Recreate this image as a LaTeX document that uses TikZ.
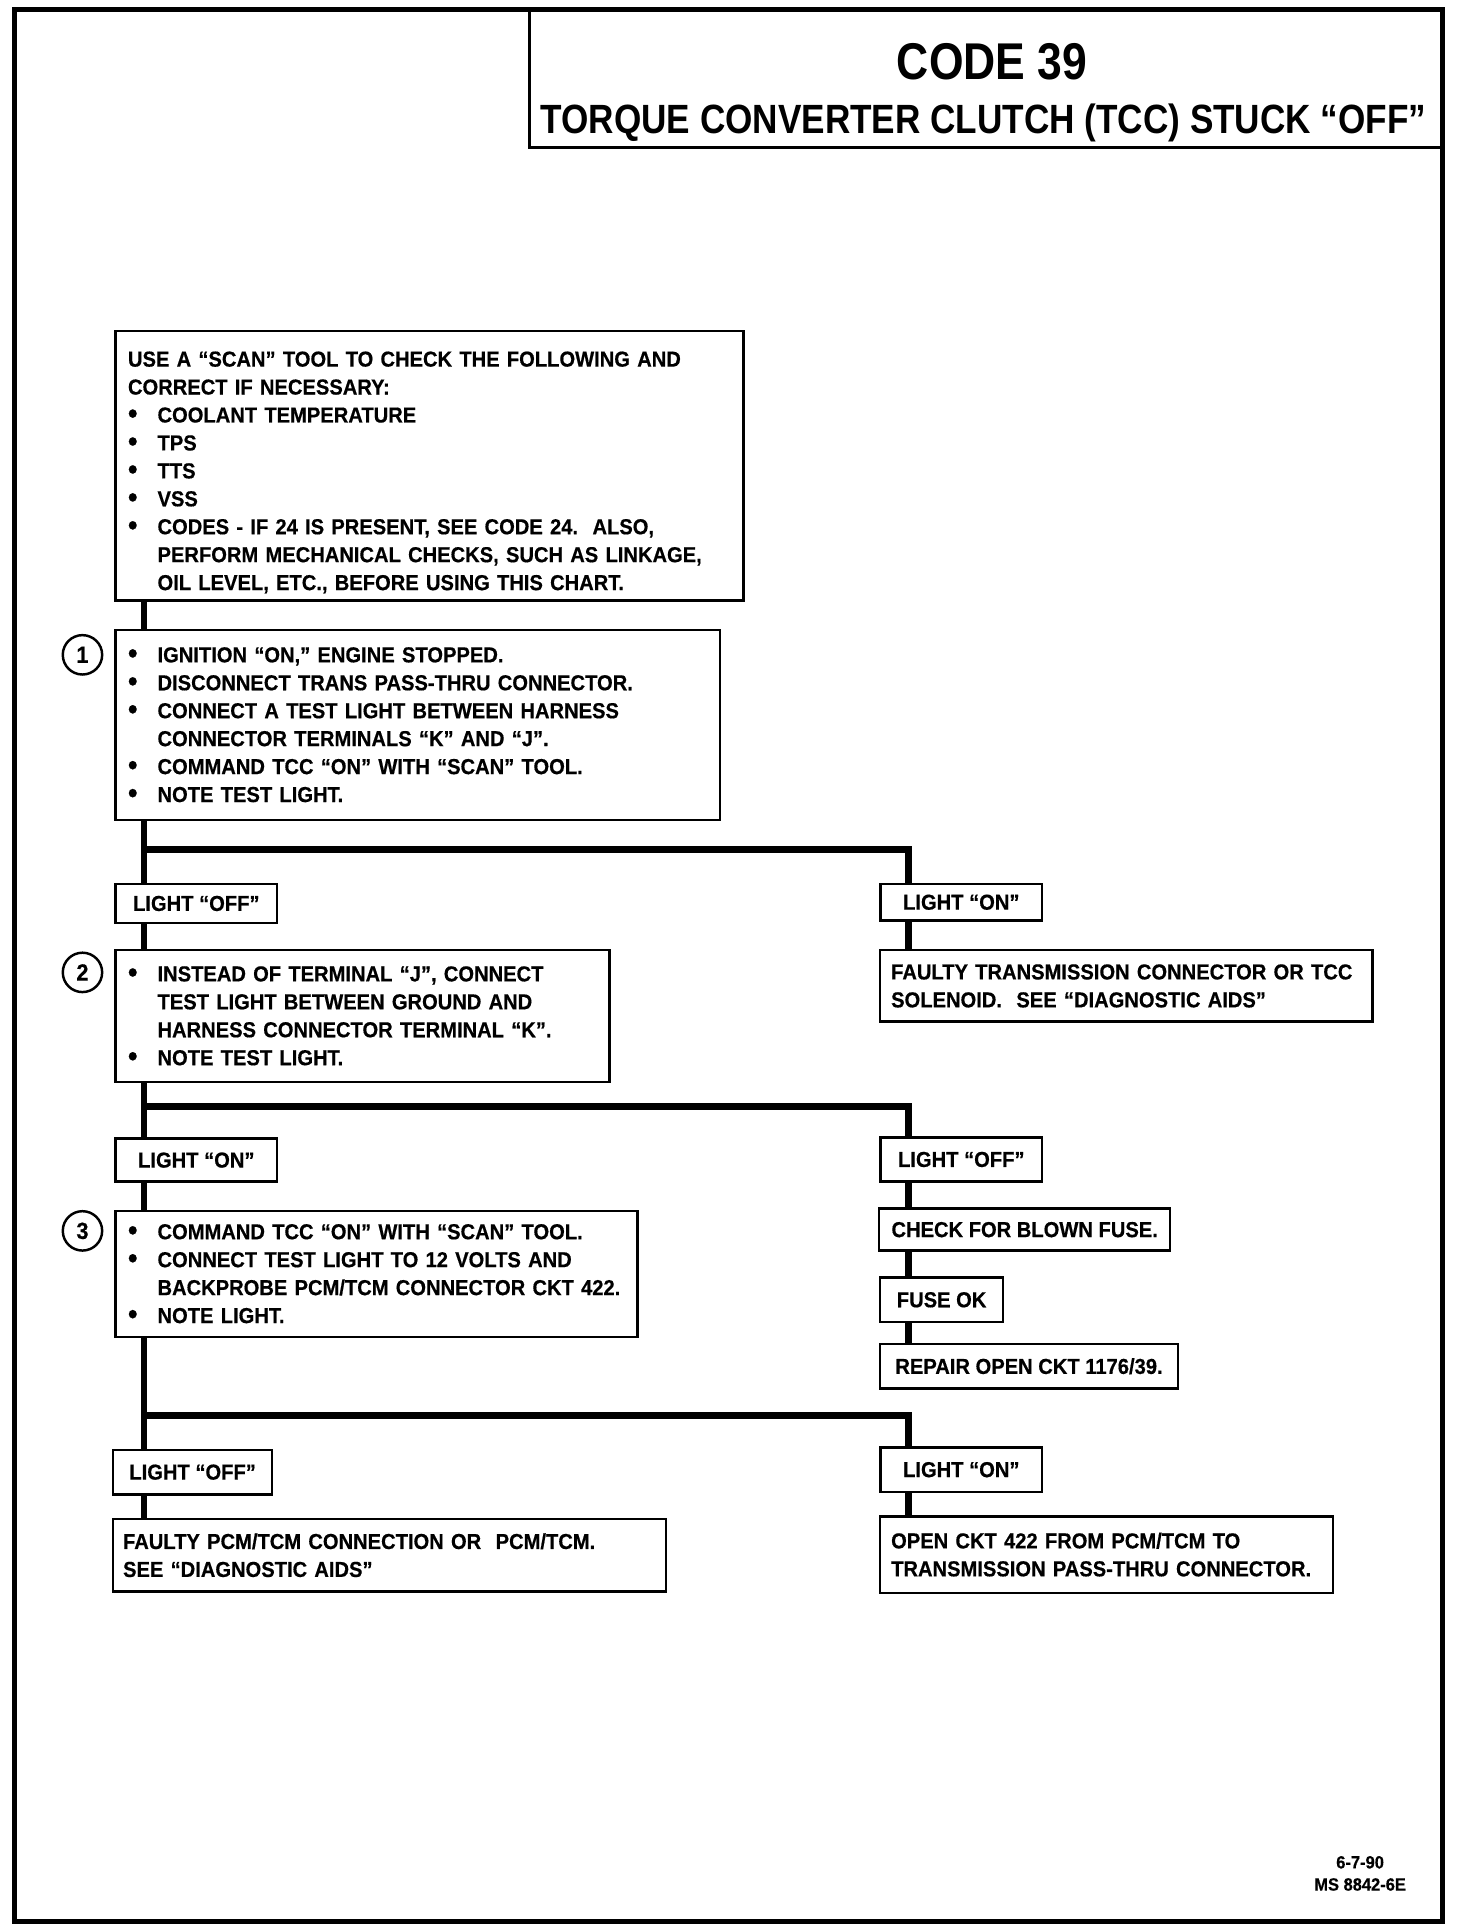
\documentclass[tikz,border=0pt]{standalone}
\usepackage{graphicx}
\usepackage{fontspec}
\setmainfont{Liberation Sans}[FakeStretch=0.93, BoldFeatures={FakeBold=0.5}]
\newfontfamily\titlefnt{Liberation Sans}[FakeStretch=0.86]
\newcommand\chartfnt{\fontsize{8.8}{11.35}\selectfont\bfseries}
\newcommand\bl{\makebox[12pt][l]{\raisebox{-0.3pt}{\scalebox{1.35}{\textbullet}}}}
\newcommand\ind{\hspace*{12pt}}
\begin{document}
\begin{tikzpicture}[x=0.5pt,y=-0.5pt,
  box/.style={draw, line width=1pt, inner xsep=5pt, inner ysep=0pt, font=\chartfnt, fill=white},
  multi/.style={box, align=left},
  lightbox/.style={box, minimum width=65.5pt},
  conn/.style={line width=2.6pt, line join=miter},
  num/.style={circle, draw, line width=1pt, minimum size=16pt, inner sep=0pt, font=\fontsize{9.5}{10}\selectfont\bfseries}]
\useasboundingbox (0,0) rectangle (1196,1568);
% frame and title
\draw[line width=2pt] (12,8) rectangle (1172,1561);
\node[draw, line width=1.4pt, minimum width=371pt, minimum height=56pt, inner sep=0pt] (tb) at (801,64) {};
\node[font=\titlefnt\fontsize{21}{24}\selectfont\bfseries, inner sep=0pt] (t1) at (806,50) {CODE 39};
\node[font=\titlefnt\fontsize{16.6}{19}\selectfont\bfseries, inner sep=0pt] (t2) at (799,100) {TORQUE CONVERTER CLUTCH (TCC) STUCK “OFF”};
% stems
\coordinate (sL) at (117,0);
\coordinate (sR) at (738,0);
\coordinate (j1) at (117,690);
\coordinate (j2) at (117,899);
\coordinate (j3) at (117,1150);
% boxes
\node[multi, text width=245pt, minimum height=109.5pt] (A) at (349,378.5) {%
\rule{0pt}{11.5pt}USE A “SCAN” TOOL TO CHECK THE FOLLOWING AND\\
CORRECT IF NECESSARY:\\
\bl COOLANT TEMPERATURE\\
\bl TPS\\
\bl TTS\\
\bl VSS\\
\bl CODES - IF 24 IS PRESENT, SEE CODE 24.\ \ ALSO,\\
\ind PERFORM MECHANICAL CHECKS, SUCH AS LINKAGE,\\
\ind OIL LEVEL, ETC., BEFORE USING THIS CHART.};
\node[multi, text width=235.5pt, minimum height=77pt] (B1) at (339.5,589) {%
\bl IGNITION “ON,” ENGINE STOPPED.\\
\bl DISCONNECT TRANS PASS-THRU CONNECTOR.\\
\bl CONNECT A TEST LIGHT BETWEEN HARNESS\\
\ind CONNECTOR TERMINALS “K” AND “J”.\\
\bl COMMAND TCC “ON” WITH “SCAN” TOOL.\\
\bl NOTE TEST LIGHT.};
\node[num] (c1) at (67,532) {1};
\node[lightbox, minimum height=16pt] (L1off) at (159.5,734) {LIGHT “OFF”};
\node[lightbox, minimum height=15pt] (L1on) at (781,733) {LIGHT “ON”};
\node[multi, inner xsep=4.5pt, text width=191pt, minimum height=29pt] (FT) at (915,801) {%
FAULTY TRANSMISSION CONNECTOR OR TCC\\
SOLENOID.\ \ SEE “DIAGNOSTIC AIDS”};
\node[multi, text width=190.5pt, minimum height=53.5pt] (B2) at (294.5,825.5) {%
\bl INSTEAD OF TERMINAL “J”, CONNECT\\
\ind TEST LIGHT BETWEEN GROUND AND\\
\ind HARNESS CONNECTOR TERMINAL “K”.\\
\bl NOTE TEST LIGHT.};
\node[num] (c2) at (67,790) {2};
\node[lightbox, minimum height=17.5pt] (L2on) at (159.5,942.5) {LIGHT “ON”};
\node[lightbox, minimum height=18pt] (L2off) at (781,942) {LIGHT “OFF”};
\node[box, minimum width=117.5pt, minimum height=17pt] (CF) at (832.5,999) {CHECK FOR BLOWN FUSE.};
\node[box, minimum width=50pt, minimum height=18pt] (FOK) at (765,1056) {FUSE OK};
\node[box, minimum width=121pt, minimum height=18pt] (REP) at (836,1110) {REPAIR OPEN CKT 1176/39.};
\node[multi, text width=202pt, minimum height=51pt] (B3) at (306,1035) {%
\bl COMMAND TCC “ON” WITH “SCAN” TOOL.\\
\bl CONNECT TEST LIGHT TO 12 VOLTS AND\\
\ind BACKPROBE PCM/TCM CONNECTOR CKT 422.\\
\bl NOTE LIGHT.};
\node[num] (c3) at (67,1000) {3};
\node[lightbox, minimum width=64.5pt, minimum height=18pt] (L3off) at (156.5,1196) {LIGHT “OFF”};
\node[lightbox, minimum height=18pt] (L3on) at (781,1194) {LIGHT “ON”};
\node[multi, inner xsep=4pt, text width=216.5pt, minimum height=29.5pt] (FP) at (316.5,1263.5) {%
FAULTY PCM/TCM CONNECTION OR\ \ PCM/TCM.\\
SEE “DIAGNOSTIC AIDS”};
\node[multi, inner xsep=4.5pt, text width=175pt, minimum height=31pt] (OC) at (899,1263) {%
OPEN CKT 422 FROM PCM/TCM TO\\
TRANSMISSION PASS-THRU CONNECTOR.};
% connectors
\draw[conn] (A.south -| sL) -- (B1.north -| sL);
\draw[conn] (B1.south -| sL) -- (L1off.north -| sL);
\draw[conn] (j1) -| (L1on.north -| sR);
\draw[conn] (L1off.south -| sL) -- (B2.north -| sL);
\draw[conn] (L1on.south -| sR) -- (FT.north -| sR);
\draw[conn] (B2.south -| sL) -- (L2on.north -| sL);
\draw[conn] (j2) -| (L2off.north -| sR);
\draw[conn] (L2on.south -| sL) -- (B3.north -| sL);
\draw[conn] (L2off.south -| sR) -- (CF.north -| sR);
\draw[conn] (CF.south -| sR) -- (FOK.north -| sR);
\draw[conn] (FOK.south -| sR) -- (REP.north -| sR);
\draw[conn] (B3.south -| sL) -- (L3off.north -| sL);
\draw[conn] (j3) -| (L3on.north -| sR);
\draw[conn] (L3off.south -| sL) -- (FP.north -| sL);
\draw[conn] (L3on.south -| sR) -- (OC.north -| sR);
% footer
\node[font=\fontsize{7.2}{9}\selectfont\bfseries, align=center, inner sep=0pt] (ft) at (1105,1522) {6-7-90\\MS 8842-6E};
\end{tikzpicture}
\end{document}
